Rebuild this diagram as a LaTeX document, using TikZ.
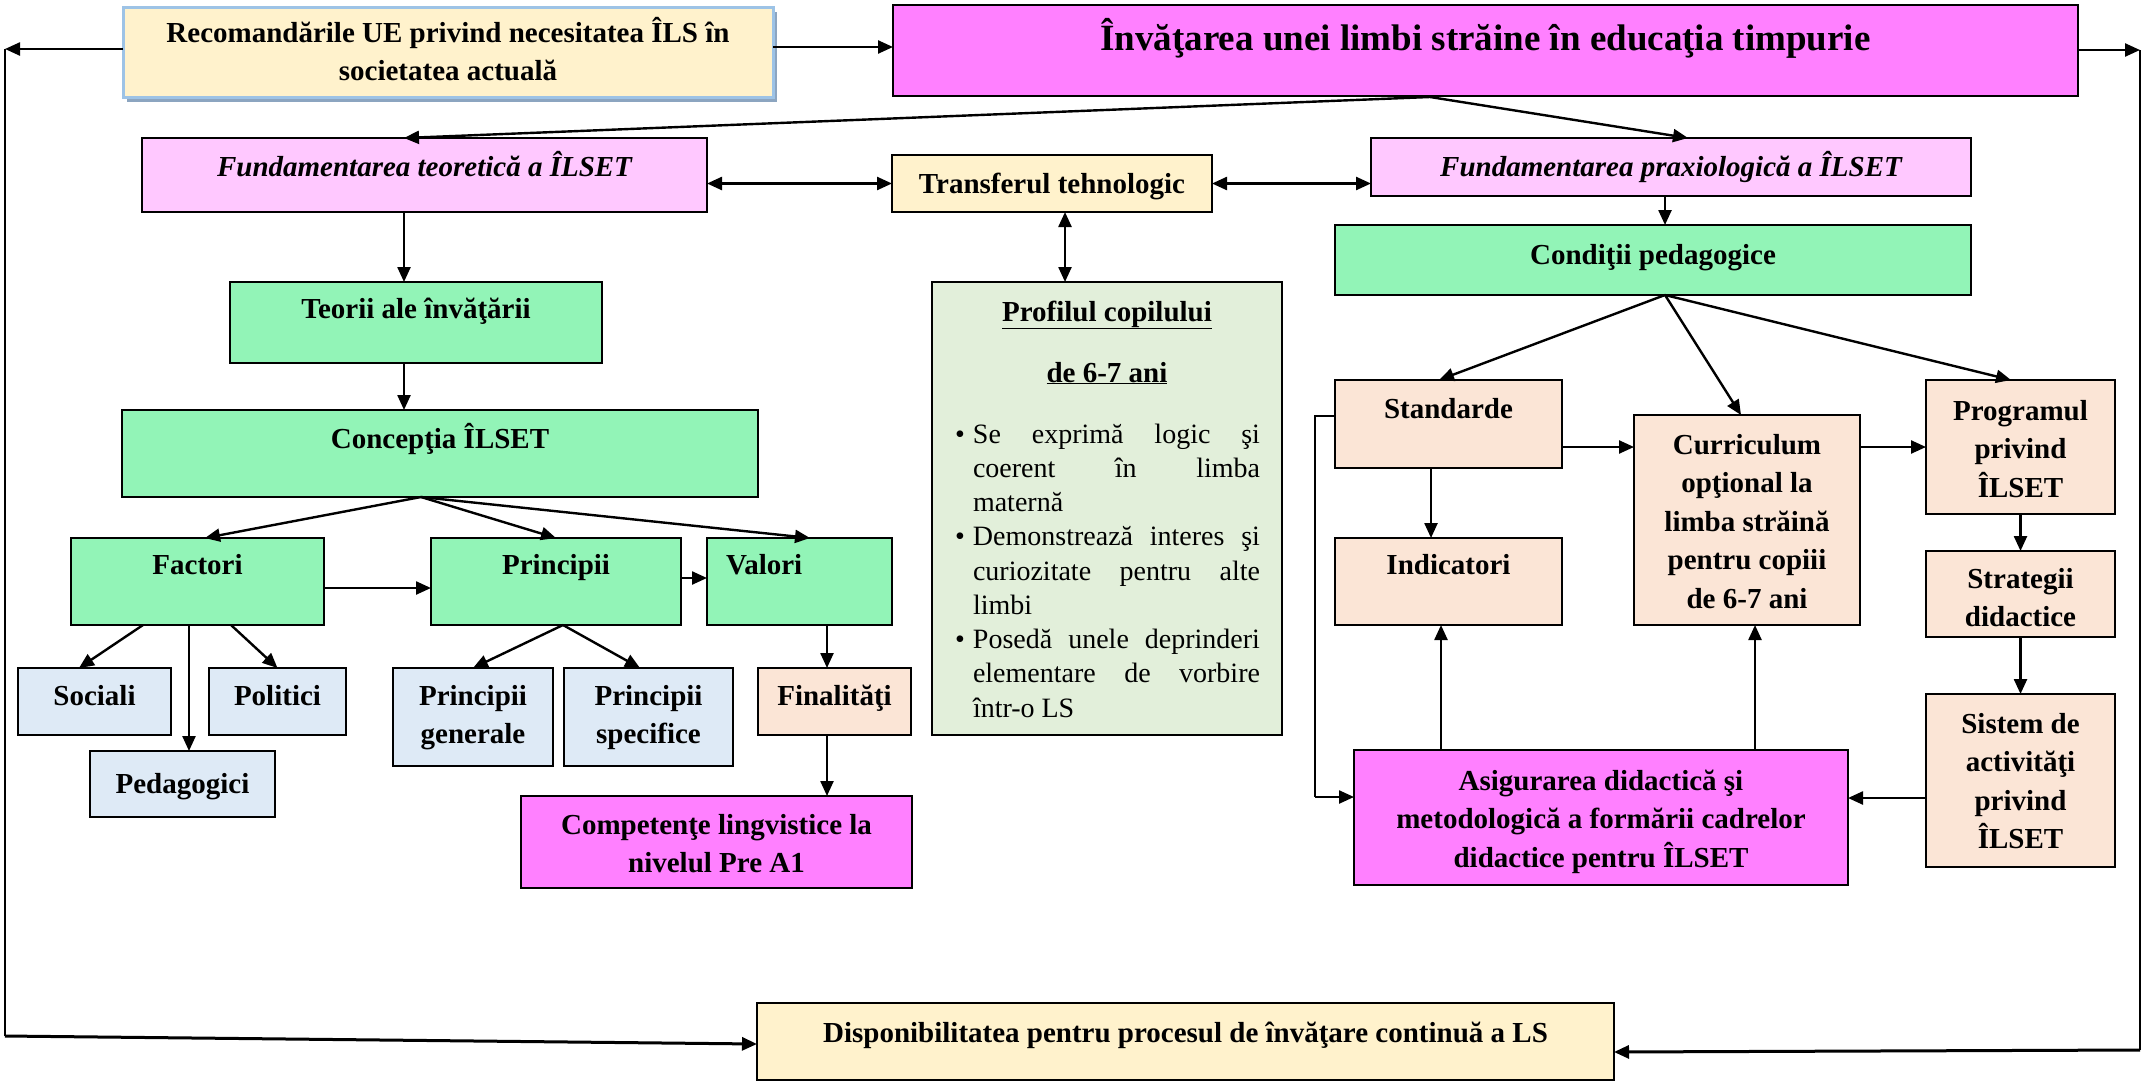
\documentclass[tikz,border=0pt]{standalone}
\usepackage{fontspec}
\setmainfont{Liberation Serif}
\usetikzlibrary{arrows.meta,shadows}
\definecolor{cream}{RGB}{255,242,204}
\definecolor{magen}{RGB}{255,128,255}
\definecolor{lpink}{RGB}{255,200,255}
\definecolor{mint}{RGB}{146,244,183}
\definecolor{sage}{RGB}{226,239,218}
\definecolor{lblue}{RGB}{222,234,246}
\definecolor{peach}{RGB}{251,229,214}
\definecolor{recborder}{RGB}{157,195,230}
\definecolor{recshadow}{RGB}{140,165,192}
\newcommand\bx[8]{\node[#2,anchor=north west,inner sep=0pt,outer sep=0pt] (#1) at (#3,#4)
 {\parbox[c][\dimexpr#6pt-#4pt\relax][t]{\dimexpr#5pt-#3pt\relax}{\centering\vspace*{\dimexpr#7pt-34pt\relax}\rule{0pt}{34pt}#8\par}};}
\newcommand\jline[1]{\noindent\hbox to 287pt{#1}\par}
\newcommand\bline[1]{\noindent\llap{\textbullet\hspace{8pt}}\hbox to 287pt{#1}\par}
\begin{document}
\begin{tikzpicture}[x=1pt,y=-1pt,
  txt/.style={font=\fontsize{29}{38.5}\selectfont\bfseries},
  box/.style={txt,draw=black,line width=2pt},
  bcream/.style={box,fill=cream},
  bmag/.style={box,fill=magen},
  bpink/.style={box,fill=lpink,font=\fontsize{29}{38.5}\selectfont\bfseries\itshape},
  bmint/.style={box,fill=mint},
  bsage/.style={box,fill=sage},
  bblue/.style={box,fill=lblue},
  bpeach/.style={box,fill=peach},
  brec/.style={txt,draw=recborder,line width=3pt,fill=cream,
     drop shadow={shadow xshift=4pt,shadow yshift=-5pt,fill=recshadow,opacity=1}},
  tip/.style={-{Triangle[length=15pt,width=13pt]}},
  arr/.style={line width=2.4pt,tip},
  darr/.style={line width=2.4pt,{Triangle[length=15pt,width=13pt]}-{Triangle[length=15pt,width=13pt]}},
  ln/.style={line width=2pt}]
\fill[white] (0,0) rectangle (2145,1082);
\useasboundingbox (0,0) rectangle (2145,1082);
% boxes
\bx{rec}{brec}{123}{7}{773}{97}{35}{Recomandările UE privind necesitatea ÎLS în\\ societatea actuală}
\bx{inv}{bmag}{893}{5}{2078}{96}{45}{\fontsize{37}{40}\selectfont Învăţarea unei limbi străine în educaţia timpurie}
\bx{ft}{bpink}{142}{138}{707}{212}{38}{Fundamentarea teoretică a ÎLSET}
\bx{tr}{bcream}{892}{155}{1212}{212}{38}{Transferul tehnologic}
\bx{fp}{bpink}{1371}{138}{1971}{196}{38}{Fundamentarea praxiologică a ÎLSET}
\bx{cd}{bmint}{1335}{225}{1971}{295}{39}{Condiţii pedagogice}
\bx{te}{bmint}{230}{282}{602}{363}{36}{Teorii ale învăţării}
\bx{prof}{bsage}{932}{282}{1282}{735}{39}{\underline{Profilul copilului}\par
 \vspace{22.5pt}\underline{de 6-7 ani}\par
 \vspace{26.75pt}
 {\raggedright\fontsize{28}{34.25}\selectfont\mdseries\leftskip=41pt
 \bline{Se\hfill exprimă\hfill logic\hfill şi}
 \jline{coerent\hfill în\hfill limba}
 \noindent maternă\par
 \bline{Demonstrează\hfill interes\hfill şi}
 \jline{curiozitate\hfill pentru\hfill alte}
 \noindent limbi\par
 \bline{Posedă\hfill unele\hfill deprinderi}
 \jline{elementare\hfill de\hfill vorbire}
 \noindent într-o LS\par}}
\bx{co}{bmint}{122}{410}{758}{497}{38}{Concepţia ÎLSET}
\bx{fa}{bmint}{71}{538}{324}{625}{36}{Factori}
\bx{pr}{bmint}{431}{538}{681}{625}{36}{Principii}
\bx{va}{bmint}{707}{538}{892}{625}{36}{\hspace*{19pt}Valori\hspace*{\fill}}
\bx{so}{bblue}{18}{668}{171}{735}{37}{Sociali}
\bx{po}{bblue}{209}{668}{346}{735}{37}{Politici}
\bx{pe}{bblue}{90}{751}{275}{817}{42}{Pedagogici}
\bx{pg}{bblue}{393}{668}{553}{766}{37}{Principii\\ generale}
\bx{ps}{bblue}{564}{668}{733}{766}{37}{Principii\\ specifice}
\bx{fi}{bpeach}{758}{668}{911}{735}{37}{Finalităţi}
\bx{cp}{bmag}{521}{796}{912}{888}{38}{Competenţe lingvistice la\\ nivelul Pre A1}
\bx{st}{bpeach}{1335}{380}{1562}{468}{38}{Standarde}
\bx{in}{bpeach}{1335}{538}{1562}{625}{36}{Indicatori}
\bx{cu}{bpeach}{1634}{415}{1860}{625}{39}{Curriculum\\ opţional la\\ limba străină\\ pentru copiii\\ de 6-7 ani}
\bx{prg}{bpeach}{1926}{380}{2115}{514}{40}{Programul\\ privind\\ ÎLSET}
\bx{sg}{bpeach}{1926}{551}{2115}{637}{37}{Strategii\\ didactice}
\bx{si}{bpeach}{1926}{694}{2115}{867}{39}{Sistem de\\ activităţi\\ privind\\ ÎLSET}
\bx{as}{bmag}{1354}{750}{1848}{885}{40}{Asigurarea didactică şi\\ metodologică a formării cadrelor\\ didactice pentru ÎLSET}
\bx{disp}{bcream}{757}{1003}{1614}{1080}{39}{Disponibilitatea pentru procesul de învăţare continuă a LS}
% helper coordinates
\coordinate (h1) at (0,47);
\coordinate (L1) at (5,49);
\coordinate (L2) at (5,1036);
\coordinate (R1) at (2140,50);
\coordinate (R2) at (2140,1050);
\coordinate (i0) at (1430,97);
\coordinate (v1) at (1065,0);
\coordinate (v2) at (404,0);
\coordinate (c0) at (421,497);
\coordinate (h2) at (0,588);
\coordinate (h3) at (0,578);
\coordinate (v3) at (189,0);
\coordinate (v4) at (827,0);
\coordinate (v5) at (1665,0);
\coordinate (v6) at (1431,0);
\coordinate (h4) at (0,447);
\coordinate (h5) at (0,798);
\coordinate (v7) at (1441,0);
\coordinate (v8) at (1755,0);
\coordinate (lp) at (1315,416);
\coordinate (lq) at (1315,797);
% outer connectors
\draw[arr] (rec.east|-h1) -- (inv.west|-h1);
\draw[arr] (rec.west|-L1) -- (L1);
\draw[ln] (L1) -- (L2);
\draw[line width=3pt,tip] (L2) -- ([yshift=-2.5pt]disp.west);
\draw[arr] (inv.east|-R1) -- (R1);
\draw[ln] (R1) -- (R2);
\draw[line width=3pt,tip] (R2) -- ([yshift=-10.5pt]disp.east);
% top level
\draw[arr] (i0) -- ([xshift=-20.5pt]ft.north);
\draw[arr] (i0) -- ([xshift=17pt]fp.north);
\draw[darr] (ft.east|-tr.west) -- (tr.west);
\draw[darr] (tr.east) -- (fp.west|-tr.east);
\draw[darr] (tr.south-|v1) -- (prof.north-|v1);
% left branch
\draw[arr] (ft.south-|v2) -- (te.north-|v2);
\draw[arr] (te.south-|v2) -- (co.north-|v2);
\draw[arr] (c0) -- ([xshift=7.5pt]fa.north);
\draw[arr] (c0) -- (pr.north);
\draw[arr] (c0) -- ([xshift=10.5pt]va.north);
\draw[arr] (fa.east|-h2) -- (pr.west|-h2);
\draw[arr] (pr.east|-h3) -- (va.west|-h3);
\draw[arr] ([xshift=-54.5pt]fa.south) -- ([xshift=-15.5pt]so.north);
\draw[arr] (fa.south-|v3) -- (pe.north-|v3);
\draw[arr] ([xshift=33.5pt]fa.south) -- (po.north);
\draw[arr] ([xshift=7pt]pr.south) -- (pg.north);
\draw[arr] ([xshift=7pt]pr.south) -- ([xshift=-8.5pt]ps.north);
\draw[arr] (va.south-|v4) -- (fi.north-|v4);
\draw[arr] (fi.south-|v4) -- (cp.north-|v4);
% right branch
\draw[arr] (fp.south-|v5) -- (cd.north-|v5);
\draw[arr] (cd.south-|v5) -- ([xshift=-9.5pt]st.north);
\draw[arr] (cd.south-|v5) -- ([xshift=-6pt]cu.north);
\draw[arr] (cd.south-|v5) -- ([xshift=-9.5pt]prg.north);
\draw[arr] (st.south-|v6) -- (in.north-|v6);
\draw[arr] (st.east|-h4) -- (cu.west|-h4);
\draw[arr] (cu.east|-h4) -- (prg.west|-h4);
\draw[arr] (prg.south) -- (sg.north);
\draw[arr] (sg.south) -- (si.north);
\draw[arr] (si.west|-h5) -- (as.east|-h5);
\draw[arr] (as.north-|v7) -- (in.south-|v7);
\draw[arr] (as.north-|v8) -- (cu.south-|v8);
\draw[ln] (st.west|-lp) -- (lp) -- (lq);
\draw[arr] (lq) -- (as.west|-lq);
\end{tikzpicture}
\end{document}
